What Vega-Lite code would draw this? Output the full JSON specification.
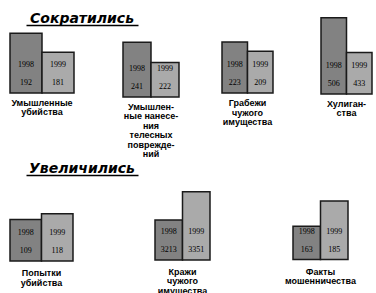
{
  "$schema": "https://vega.github.io/schema/vega-lite/v6.json",
  "padding": {"left": 9, "top": 11, "right": 0, "bottom": 0},
  "background": "white",
  "datasets": {
    "crime": [
      {"group": "Умышленные убийства", "year": "1998", "value": 192},
      {"group": "Умышленные убийства", "year": "1999", "value": 181},
      {"group": "Умышленные нанесения телесных повреждений", "year": "1998", "value": 241},
      {"group": "Умышленные нанесения телесных повреждений", "year": "1999", "value": 222},
      {"group": "Грабежи чужого имущества", "year": "1998", "value": 223},
      {"group": "Грабежи чужого имущества", "year": "1999", "value": 209},
      {"group": "Хулиганства", "year": "1998", "value": 506},
      {"group": "Хулиганства", "year": "1999", "value": 433},
      {"group": "Попытки убийства", "year": "1998", "value": 109},
      {"group": "Попытки убийства", "year": "1999", "value": 118},
      {"group": "Кражи чужого имущества", "year": "1998", "value": 3213},
      {"group": "Кражи чужого имущества", "year": "1999", "value": 3351},
      {"group": "Факты мошенничества", "year": "1998", "value": 163},
      {"group": "Факты мошенничества", "year": "1999", "value": 185}
    ],
    "sections": [
      {"section": "Сократились"},
      {"section": "Увеличились"}
    ]
  },
  "config": {
    "view": {"stroke": null},
    "axis": {"labels": false, "ticks": false, "domain": false, "grid": false, "title": null},
    "text": {"font": "Liberation Serif", "fontSize": 8, "color": "black"},
    "bar": {"stroke": "#1a1a1a", "strokeWidth": 1.5}
  },
  "bounds": "full",
  "spacing": 1,
  "vconcat": [
    {
      "bounds": "flush",
      "spacing": 40,
      "hconcat": [
        {
          "width": 73, "height": 86,
          "resolve": {"scale": {"x": "independent"}, "axis": {"x": "independent"}},
          "layer": [
            {
              "data": {"name": "crime"},
              "transform": [{"filter": "datum.group === 'Умышленные убийства'"}],
              "encoding": {"x": {"field": "year", "type": "nominal", "scale": {"paddingInner": 0, "paddingOuter": 0.1406, "align": 0}, "axis": null}},
              "layer": [
                {"mark": "bar", "encoding": {
                  "y": {"field": "value", "type": "quantitative", "scale": {"domain": [157.35, 204.65], "zero": false}, "axis": null},
                  "y2": {"datum": 157.35},
                  "fill": {"field": "year", "type": "nominal", "scale": {"domain": ["1998", "1999"], "range": ["#828282", "#aaaaaa"]}, "legend": null}}},
                {"mark": {"type": "text", "dy": -28}, "encoding": {"y": {"datum": 157.35, "type": "quantitative", "axis": null}, "text": {"field": "year"}}},
                {"mark": {"type": "text", "dy": -10}, "encoding": {"y": {"datum": 157.35, "type": "quantitative", "axis": null}, "text": {"field": "value"}}},
                {"transform": [{"filter": "datum.year === '1998'"}],
                 "mark": {"type": "text", "font": "Liberation Sans", "fontWeight": "bold", "fontSize": 9, "lineHeight": 9.5, "baseline": "top", "align": "center", "dy": 6},
                 "encoding": {"x": {"datum": "1999", "type": "nominal", "bandPosition": 0}, "y": {"datum": 157.35, "type": "quantitative", "axis": null}, "text": {"value": ["Умышленные", "убийства"]}}}
              ]
            },
            {
              "data": {"name": "sections"},
              "transform": [{"filter": "datum.section === 'Сократились'"}],
              "mark": {"type": "text", "font": "DejaVu Sans", "fontSize": 14, "fontStyle": "italic", "fontWeight": "bold", "baseline": "middle", "align": "center", "dy": 7},
              "encoding": {
                "x": {"datum": 0.5, "type": "quantitative", "scale": {"domain": [0, 1], "range": [16, 128]}, "axis": {"orient": "top", "offset": -14, "domain": true, "domainColor": "black", "domainWidth": 1.5}},
                "y": {"datum": 204.65, "type": "quantitative", "axis": null},
                "text": {"field": "section"}
              }
            }
          ]
        },
        {
          "width": 59, "height": 86,
          "data": {"name": "crime"},
          "transform": [{"filter": "datum.group === 'Умышленные нанесения телесных повреждений'"}],
          "encoding": {"x": {"field": "year", "type": "nominal", "scale": {"paddingInner": 0, "paddingOuter": 0.0536, "align": 0}, "axis": null}},
          "layer": [
            {"mark": "bar", "encoding": {
              "y": {"field": "value", "type": "quantitative", "scale": {"domain": [190.05, 264.32], "zero": false}, "axis": null},
              "y2": {"datum": 190.05},
              "fill": {"field": "year", "type": "nominal", "scale": {"domain": ["1998", "1999"], "range": ["#828282", "#aaaaaa"]}, "legend": null}}},
            {"mark": {"type": "text", "dy": -28}, "encoding": {"y": {"datum": 190.05, "type": "quantitative", "axis": null}, "text": {"field": "year"}}},
            {"mark": {"type": "text", "dy": -10}, "encoding": {"y": {"datum": 190.05, "type": "quantitative", "axis": null}, "text": {"field": "value"}}},
            {"transform": [{"filter": "datum.year === '1998'"}],
             "mark": {"type": "text", "font": "Liberation Sans", "fontWeight": "bold", "fontSize": 9, "lineHeight": 9.5, "baseline": "top", "align": "center", "dy": 6},
             "encoding": {"x": {"datum": "1999", "type": "nominal", "bandPosition": 0}, "y": {"datum": 190.05, "type": "quantitative", "axis": null}, "text": {"value": ["Умышлен-", "ные нанесе-", "ния", "телесных", "поврежде-", "ний"]}}}
          ]
        },
        {
          "width": 59, "height": 86,
          "data": {"name": "crime"},
          "transform": [{"filter": "datum.group === 'Грабежи чужого имущества'"}],
          "encoding": {"x": {"field": "year", "type": "nominal", "scale": {"paddingInner": 0, "paddingOuter": 0.1569, "align": 0}, "axis": null}},
          "layer": [
            {"mark": "bar", "encoding": {
              "y": {"field": "value", "type": "quantitative", "scale": {"domain": [146, 266.4], "zero": false}, "axis": null},
              "y2": {"datum": 146},
              "fill": {"field": "year", "type": "nominal", "scale": {"domain": ["1998", "1999"], "range": ["#828282", "#aaaaaa"]}, "legend": null}}},
            {"mark": {"type": "text", "dy": -28}, "encoding": {"y": {"datum": 146, "type": "quantitative", "axis": null}, "text": {"field": "year"}}},
            {"mark": {"type": "text", "dy": -10}, "encoding": {"y": {"datum": 146, "type": "quantitative", "axis": null}, "text": {"field": "value"}}},
            {"transform": [{"filter": "datum.year === '1998'"}],
             "mark": {"type": "text", "font": "Liberation Sans", "fontWeight": "bold", "fontSize": 9, "lineHeight": 9.5, "baseline": "top", "align": "center", "dy": 6},
             "encoding": {"x": {"datum": "1999", "type": "nominal", "bandPosition": 0}, "y": {"datum": 146, "type": "quantitative", "axis": null}, "text": {"value": ["Грабежи", "чужого", "имущества"]}}}
          ]
        },
        {
          "width": 51, "height": 86,
          "data": {"name": "crime"},
          "transform": [{"filter": "datum.group === 'Хулиганства'"}],
          "encoding": {"x": {"field": "year", "type": "nominal", "scale": {"paddingInner": 0, "paddingOuter": 0}, "axis": null}},
          "layer": [
            {"mark": "bar", "encoding": {
              "y": {"field": "value", "type": "quantitative", "scale": {"domain": [346.5, 511.7], "zero": false}, "axis": null},
              "y2": {"datum": 346.5},
              "fill": {"field": "year", "type": "nominal", "scale": {"domain": ["1998", "1999"], "range": ["#828282", "#aaaaaa"]}, "legend": null}}},
            {"mark": {"type": "text", "dy": -28}, "encoding": {"y": {"datum": 346.5, "type": "quantitative", "axis": null}, "text": {"field": "year"}}},
            {"mark": {"type": "text", "dy": -10}, "encoding": {"y": {"datum": 346.5, "type": "quantitative", "axis": null}, "text": {"field": "value"}}},
            {"transform": [{"filter": "datum.year === '1998'"}],
             "mark": {"type": "text", "font": "Liberation Sans", "fontWeight": "bold", "fontSize": 9, "lineHeight": 9.5, "baseline": "top", "align": "center", "dy": 6},
             "encoding": {"x": {"datum": "1999", "type": "nominal", "bandPosition": 0}, "y": {"datum": 346.5, "type": "quantitative", "axis": null}, "text": {"value": ["Хулиган-", "ства"]}}}
          ]
        }
      ]
    },
    {
      "bounds": "flush",
      "spacing": 40,
      "hconcat": [
        {
          "width": 105, "height": 103,
          "resolve": {"scale": {"x": "independent"}, "axis": {"x": "independent"}},
          "layer": [
            {
              "data": {"name": "crime"},
              "transform": [{"filter": "datum.group === 'Попытки убийства'"}],
              "encoding": {"x": {"field": "year", "type": "nominal", "scale": {"paddingInner": 0, "paddingOuter": 0.6667, "align": 0}, "axis": null}},
              "layer": [
                {"mark": "bar", "encoding": {
                  "y": {"field": "value", "type": "quantitative", "scale": {"domain": [44.5, 199], "zero": false}, "axis": null},
                  "y2": {"datum": 44.5},
                  "fill": {"field": "year", "type": "nominal", "scale": {"domain": ["1998", "1999"], "range": ["#828282", "#aaaaaa"]}, "legend": null}}},
                {"mark": {"type": "text", "dy": -28}, "encoding": {"y": {"datum": 44.5, "type": "quantitative", "axis": null}, "text": {"field": "year"}}},
                {"mark": {"type": "text", "dy": -10}, "encoding": {"y": {"datum": 44.5, "type": "quantitative", "axis": null}, "text": {"field": "value"}}},
                {"transform": [{"filter": "datum.year === '1998'"}],
                 "mark": {"type": "text", "font": "Liberation Sans", "fontWeight": "bold", "fontSize": 9, "lineHeight": 9.5, "baseline": "top", "align": "center", "dy": 8},
                 "encoding": {"x": {"datum": "1999", "type": "nominal", "bandPosition": 0}, "y": {"datum": 44.5, "type": "quantitative", "axis": null}, "text": {"value": ["Попытки", "убийства"]}}}
              ]
            },
            {
              "data": {"name": "sections"},
              "transform": [{"filter": "datum.section === 'Увеличились'"}],
              "mark": {"type": "text", "font": "DejaVu Sans", "fontSize": 14, "fontStyle": "italic", "fontWeight": "bold", "baseline": "middle", "align": "center", "dy": 7},
              "encoding": {
                "x": {"datum": 0.5, "type": "quantitative", "scale": {"domain": [0, 1], "range": [16, 128]}, "axis": {"orient": "top", "offset": -14, "domain": true, "domainColor": "black", "domainWidth": 1.5}},
                "y": {"datum": 199, "type": "quantitative", "axis": null},
                "text": {"field": "section"}
              }
            }
          ]
        },
        {
          "width": 98, "height": 103,
          "data": {"name": "crime"},
          "transform": [{"filter": "datum.group === 'Кражи чужого имущества'"}],
          "encoding": {"x": {"field": "year", "type": "nominal", "scale": {"paddingInner": 0, "paddingOuter": 0.7818, "align": 0}, "axis": null}},
          "layer": [
            {"mark": "bar", "encoding": {
              "y": {"field": "value", "type": "quantitative", "scale": {"domain": [3019.8, 3493.6], "zero": false}, "axis": null},
              "y2": {"datum": 3019.8},
              "fill": {"field": "year", "type": "nominal", "scale": {"domain": ["1998", "1999"], "range": ["#828282", "#aaaaaa"]}, "legend": null}}},
            {"mark": {"type": "text", "dy": -28}, "encoding": {"y": {"datum": 3019.8, "type": "quantitative", "axis": null}, "text": {"field": "year"}}},
            {"mark": {"type": "text", "dy": -10}, "encoding": {"y": {"datum": 3019.8, "type": "quantitative", "axis": null}, "text": {"field": "value"}}},
            {"transform": [{"filter": "datum.year === '1998'"}],
             "mark": {"type": "text", "font": "Liberation Sans", "fontWeight": "bold", "fontSize": 9, "lineHeight": 9.5, "baseline": "top", "align": "center", "dy": 8},
             "encoding": {"x": {"datum": "1999", "type": "nominal", "bandPosition": 0}, "y": {"datum": 3019.8, "type": "quantitative", "axis": null}, "text": {"value": ["Кражи", "чужого", "имущества"]}}}
          ]
        },
        {
          "width": 55, "height": 103,
          "data": {"name": "crime"},
          "transform": [{"filter": "datum.group === 'Факты мошенничества'"}],
          "encoding": {"x": {"field": "year", "type": "nominal", "scale": {"paddingInner": 0, "paddingOuter": 0}, "axis": null}},
          "layer": [
            {"mark": "bar", "encoding": {
              "y": {"field": "value", "type": "quantitative", "scale": {"domain": [133.9, 214.83], "zero": false}, "axis": null},
              "y2": {"datum": 133.9},
              "fill": {"field": "year", "type": "nominal", "scale": {"domain": ["1998", "1999"], "range": ["#828282", "#aaaaaa"]}, "legend": null}}},
            {"mark": {"type": "text", "dy": -28}, "encoding": {"y": {"datum": 133.9, "type": "quantitative", "axis": null}, "text": {"field": "year"}}},
            {"mark": {"type": "text", "dy": -10}, "encoding": {"y": {"datum": 133.9, "type": "quantitative", "axis": null}, "text": {"field": "value"}}},
            {"transform": [{"filter": "datum.year === '1998'"}],
             "mark": {"type": "text", "font": "Liberation Sans", "fontWeight": "bold", "fontSize": 9, "lineHeight": 9.5, "baseline": "top", "align": "center", "dy": 8},
             "encoding": {"x": {"datum": "1999", "type": "nominal", "bandPosition": 0}, "y": {"datum": 133.9, "type": "quantitative", "axis": null}, "text": {"value": ["Факты", "мошенничества"]}}}
          ]
        }
      ]
    }
  ]
}
